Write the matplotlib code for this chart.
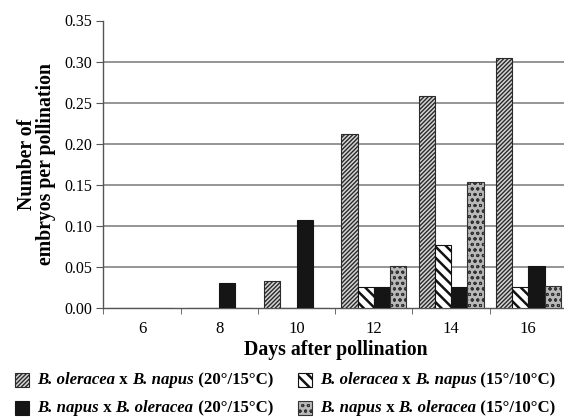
import matplotlib
matplotlib.use("Agg")
import matplotlib.pyplot as plt
from matplotlib.patches import Rectangle
import numpy as np

days = ["6", "8", "10", "12", "14", "16"]
ole_napus_20 = [0, 0, 0.033, 0.212, 0.258, 0.305]
ole_napus_15 = [0, 0, 0, 0.026, 0.077, 0.026]
napus_ole_20 = [0, 0.031, 0.107, 0.026, 0.026, 0.051]
napus_ole_15 = [0, 0, 0, 0.051, 0.154, 0.027]
yticks = [0.00, 0.05, 0.10, 0.15, 0.20, 0.25, 0.30, 0.35]

plt.rcParams['font.family'] = ['Liberation Serif', 'DejaVu Serif']

W, H = 564, 417
fig = plt.figure(figsize=(W / 100, H / 100), dpi=100)
left, bottom, top, right = 103.3, 308.3, 20.5, 567
ax = fig.add_axes([left / W, 1 - bottom / H, (right - left) / W, (bottom - top) / H])

series = [ole_napus_20, ole_napus_15, napus_ole_20, napus_ole_15]
styles = [
    dict(facecolor='#d4d4d4', hatch='////////', edgecolor='#2a2a2a'),
    dict(facecolor='white', hatch='\\\\\\', edgecolor='#111111'),
    dict(facecolor='#151515', hatch=None, edgecolor='#151515'),
    dict(facecolor='#b8b8b8', hatch='ooo', edgecolor='#333333'),
]
hatch_lw = [1.0, 1.8, 0.8, 0.7]
x = np.arange(len(days))
bw = 0.21
for i, (vals, st) in enumerate(zip(series, styles)):
    with plt.rc_context({'hatch.linewidth': hatch_lw[i]}):
        bars = ax.bar(x + (i - 1.5) * bw, vals, width=bw, linewidth=0.8, zorder=3, **st)
        for b in bars:
            if hasattr(b, 'set_hatch_linewidth'):
                b.set_hatch_linewidth(hatch_lw[i])

ax.set_xlim(-0.5, len(days) - 0.5)
ax.set_ylim(0, 0.35)
ax.set_yticks(yticks)
ax.set_yticklabels([f"{v:.2f}" for v in yticks], fontsize=11.5)
ax.set_xticks(x)
ax.set_xticklabels(days, fontsize=12)
ax.set_xticks(np.arange(-0.5, len(days)), minor=True)
ax.tick_params(axis='x', which='major', length=0, pad=9)
ax.tick_params(axis='x', which='minor', length=4, color='#555555', direction='out')
ax.tick_params(axis='y', length=5, color='#555555', direction='out', pad=3)
for v in yticks[1:-1]:
    ax.axhline(v, color='#8c8c8c', linewidth=1.3, zorder=0)
for s in ['top', 'right']:
    ax.spines[s].set_visible(False)
for s in ['left', 'bottom']:
    ax.spines[s].set_color('#555555')
    ax.spines[s].set_linewidth(1.0)

fig.canvas.draw()
renderer = fig.canvas.get_renderer()


def fit_text(xp, yp, s, target_w, **kw):
    t = fig.text(xp / W, 1 - yp / H, s, fontsize=12, **kw)
    bb = t.get_window_extent(renderer=renderer)
    w = bb.height if kw.get('rotation') == 90 else bb.width
    fs = 12 * target_w / w
    t.set_fontsize(fs)
    return t, fs


_, xl_fs = fit_text(336, 350, "Days after pollination", 182, ha='center', va='center',
                    fontweight='bold')
fig.text(27 / W, 1 - 164 / H, "Number of", rotation=90, ha='center', va='center',
         fontsize=xl_fs, fontweight='bold')
fig.text(46 / W, 1 - 164 / H, "embryos per pollination", rotation=90, ha='center',
         va='center', fontsize=xl_fs, fontweight='bold')

# legend
legend_items = [
    (15, 380, 0, [("B. oleracea", True), (" x ", False), ("B. napus", True), (" (20°/15°C)", False)]),
    (298, 380, 1, [("B. oleracea", True), (" x ", False), ("B. napus", True), (" (15°/10°C)", False)]),
    (15, 408, 2, [("B. napus", True), (" x ", False), ("B. oleracea", True), (" (20°/15°C)", False)]),
    (298, 408, 3, [("B. napus", True), (" x ", False), ("B. oleracea", True), (" (15°/10°C)", False)]),
]
probe_w = 0
probe = []
for txt, it in legend_items[0][3]:
    t = fig.text(0, 0, txt, fontsize=12, fontweight='bold', fontstyle='italic' if it else 'normal')
    probe_w += t.get_window_extent(renderer=renderer).width
    probe.append(t)
for t in probe:
    t.remove()
leg_fs = 12 * 236 / probe_w

for (px, py, si, parts) in legend_items:
    st = styles[si]
    with plt.rc_context({'hatch.linewidth': hatch_lw[si]}):
        r = Rectangle((px / W, 1 - (py + 7) / H), 14 / W, 14 / H, transform=fig.transFigure,
                      linewidth=0.8, **st)
    fig.add_artist(r)
    cx = px + 22
    for txt, it in parts:
        t = fig.text(cx / W, 1 - py / H, txt, ha='left', va='center', fontsize=leg_fs,
                     fontweight='bold', fontstyle='italic' if it else 'normal')
        bb = t.get_window_extent(renderer=renderer)
        cx += bb.width

fig.savefig("out.png", dpi=100)
